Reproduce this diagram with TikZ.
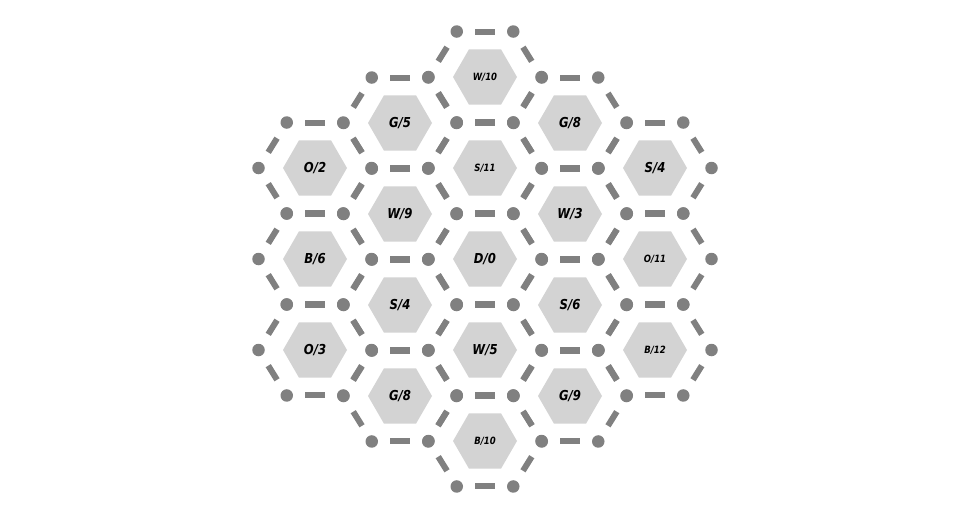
\documentclass[tikz,border=0pt]{standalone}
\usepackage{fontspec}
\newfontfamily\hexfont{DejaVu Sans}[FakeStretch=0.85]
\usetikzlibrary{shapes.geometric,calc}

\begin{document}
\begin{tikzpicture}[x=1pt,y=-1pt]
			% Define colors
			\definecolor{tile_bg}{RGB}{211, 211, 211}
			\definecolor{road_gray}{RGB}{128, 128, 128}

			% Styles
			\tikzstyle{tile} = [regular polygon, regular polygon sides=6, fill=tile_bg, draw=none, minimum size=64pt, inner sep=0pt, text=black]
			\tikzstyle{corner} = [circle, fill=road_gray, draw=none, minimum size=12.5pt, inner sep=0pt]
			\tikzstyle{road} = [draw=road_gray, line width=6pt, shorten >=12pt, shorten <=12pt]

			\useasboundingbox (0,0) rectangle (969,519);

			% Tiles: centre x / centre y / resource / number
			\foreach \cx/\cy/\res/\num [count=\i] in {
				315/168/O/2, 315/259/B/6, 315/350/O/3,
				400/123/G/5, 400/214/W/9, 400/305/S/4, 400/396/G/8,
				485/77/W/10, 485/168/S/11, 485/259/D/0, 485/350/W/5, 485/441/B/10,
				570/123/G/8, 570/214/W/3, 570/305/S/6, 570/396/G/9,
				655/168/S/4, 655/259/O/11, 655/350/B/12} {
				\pgfmathsetmacro{\fs}{\num>9 ? 10 : 13.7}
				\node[tile, font=\hexfont\bfseries\itshape\fontsize{\fs}{\fs}\selectfont] (t\i) at (\cx,\cy) {\res/\num};

				% corners of the tile
				\foreach \a [count=\j] in {0,60,...,300}
					\node[corner] (t\i-\j) at ($(\cx,\cy)+(\a:56.5 and 52.5)$) {};

				% roads between the corners
				\foreach \j [evaluate=\j as \k using {int(mod(\j,6)+1)}] in {1,...,6}
					\draw[road] (t\i-\j) -- (t\i-\k);
			}

		\end{tikzpicture}
\end{document}
